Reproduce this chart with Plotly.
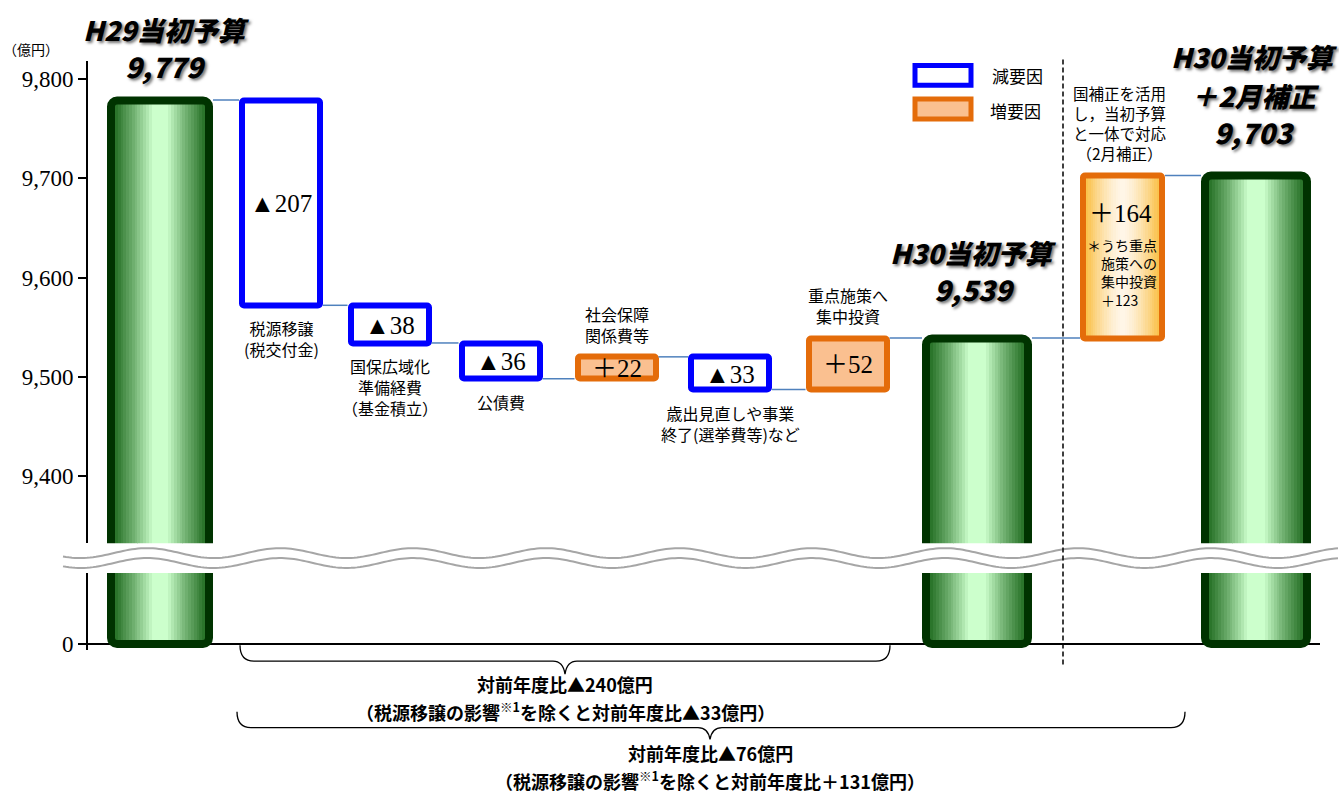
import math
import plotly.graph_objects as go

W, H = 1339, 798

# ---------------- data ----------------
BUDGET_H29 = 9779          # H29当初予算
BUDGET_H30 = 9539          # H30当初予算
BUDGET_H30_FEB = 9703      # H30当初予算＋2月補正
STEP_CHANGES = [-207, -38, -36, 22, -33, 52]
STEP_LABELS = [
    "税源移譲<br>(税交付金)",
    "国保広域化<br>準備経費<br>（基金積立）",
    "公債費",
    "社会保障<br>関係費等",
    "歳出見直しや事業<br>終了(選挙費等)など",
    "重点施策へ<br>集中投資",
]
FEB_SUPPLEMENT = 164       # 2月補正
FEB_FOCUS_PART = 123       # うち重点施策への集中投資
TAX_TRANSFER = -207        # 税源移譲の影響
Y_TICKS = [9400, 9500, 9600, 9700, 9800]
Y_TICK_TEXT = ["9,400", "9,500", "9,600", "9,700", "9,800"]

# ---------------- layout constants (x axis is in pixel units) ----------------
TOTAL_X = [160, 977, 1256]
TOTAL_W = [98, 102, 102]
STEP_X = [281, 389.5, 500.5, 616.5, 730, 847.5]
STEP_W = 78
SUPP_X = 1122.5
SUPP_W = 79
TOTAL_LW = 8
STEP_LW = 6

DARK_GREEN = "#003300"
BLUE = "#0000FF"
ORANGE_LINE = "#E46C0A"
ORANGE_FILL = "#FAC090"
CONNECT = "#4F81BD"
SERIF = "Liberation Serif, Noto Sans CJK JP"
GOTHIC = "Noto Sans CJK JP"


def px(x):
    return x / W


def py(y):
    return 1 - y / H


def signed(v):
    return f"▲{abs(v):,}" if v < 0 else f"＋{v:,}"


def mix(c1, c2, t):
    return "rgb({},{},{})".format(*[round(a + (b - a) * t) for a, b in zip(c1, c2)])


def green_shade(t):
    # light band in the middle, darker towards both edges
    d = abs(t - 0.5) / 0.5
    k = max(0.0, min(1.0, (d - 0.18) / 0.82))
    return mix((204, 255, 204), (38, 112, 38), k ** 0.85)


def orange_shade(t):
    d = abs(t - 0.5) / 0.5
    return mix((255, 246, 232), (250, 192, 70), d ** 1.5)


# running levels of the waterfall
levels = [BUDGET_H29]
for c in STEP_CHANGES:
    levels.append(levels[-1] + c)

fig = go.Figure()

# ---------------- connector lines ----------------
edges = []  # (left_outer, right_outer) of every column in order
edges.append((TOTAL_X[0] - TOTAL_W[0] / 2 - TOTAL_LW / 2, TOTAL_X[0] + TOTAL_W[0] / 2 + TOTAL_LW / 2))
for xc in STEP_X:
    edges.append((xc - STEP_W / 2 - STEP_LW / 2, xc + STEP_W / 2 + STEP_LW / 2))
edges.append((TOTAL_X[1] - TOTAL_W[1] / 2 - TOTAL_LW / 2, TOTAL_X[1] + TOTAL_W[1] / 2 + TOTAL_LW / 2))
edges.append((SUPP_X - SUPP_W / 2 - STEP_LW / 2, SUPP_X + SUPP_W / 2 + STEP_LW / 2))
edges.append((TOTAL_X[2] - TOTAL_W[2] / 2 - TOTAL_LW / 2, TOTAL_X[2] + TOTAL_W[2] / 2 + TOTAL_LW / 2))
conn_levels = levels[:] + [BUDGET_H30, BUDGET_H30_FEB]
cx, cy = [], []
for i, lv in enumerate(conn_levels):
    cx += [edges[i][1], edges[i + 1][0], None]
    cy += [lv, lv, None]
fig.add_trace(go.Scatter(x=cx, y=cy, mode="lines", line=dict(color=CONNECT, width=1.5),
                         hoverinfo="skip", showlegend=False, xaxis="x", yaxis="y"))

# ---------------- total columns (gradient strips + outline) ----------------
totals = [BUDGET_H29, BUDGET_H30, BUDGET_H30_FEB]
N = 32
sx, sy, sw, sc = [], [], [], []
for xc, w, v in zip(TOTAL_X, TOTAL_W, totals):
    inner = w - TOTAL_LW
    left = xc - inner / 2
    step = inner / N
    for k in range(N):
        sx.append(left + step * (k + 0.5))
        sy.append(v)
        sw.append(step * 1.02)
        sc.append(green_shade((k + 0.5) / N))
for ya in ["y", "y2"]:
    fig.add_trace(go.Bar(x=sx, y=sy, base=0, width=sw, marker=dict(color=sc, line=dict(width=0)),
                         hoverinfo="skip", showlegend=False, yaxis=ya))
    fig.add_trace(go.Bar(x=TOTAL_X, y=totals, base=0, width=TOTAL_W,
                         marker=dict(color="rgba(0,0,0,0)", cornerradius=6,
                                     line=dict(color=DARK_GREEN, width=TOTAL_LW)),
                         hoverinfo="skip", showlegend=False, yaxis=ya))

# ---------------- step boxes ----------------
bases = [min(levels[i], levels[i + 1]) for i in range(len(STEP_CHANGES))]
heights = [abs(c) for c in STEP_CHANGES]
fills = ["white" if c < 0 else ORANGE_FILL for c in STEP_CHANGES]
lines = [BLUE if c < 0 else ORANGE_LINE for c in STEP_CHANGES]
fig.add_trace(go.Bar(x=STEP_X, y=heights, base=bases, width=STEP_W,
                     marker=dict(color=fills, cornerradius=2, line=dict(color=lines, width=STEP_LW)),
                     hoverinfo="skip", showlegend=False, yaxis="y"))

# ---------------- supplementary budget box ----------------
inner = SUPP_W - STEP_LW
step = inner / N
fig.add_trace(go.Bar(x=[SUPP_X - inner / 2 + step * (k + 0.5) for k in range(N)],
                     y=[FEB_SUPPLEMENT] * N, base=BUDGET_H30, width=step * 1.02,
                     marker=dict(color=[orange_shade((k + 0.5) / N) for k in range(N)], line=dict(width=0)),
                     hoverinfo="skip", showlegend=False, yaxis="y"))
fig.add_trace(go.Bar(x=[SUPP_X], y=[FEB_SUPPLEMENT], base=BUDGET_H30, width=SUPP_W,
                     marker=dict(color="rgba(0,0,0,0)", cornerradius=2,
                                 line=dict(color=ORANGE_LINE, width=STEP_LW)),
                     hoverinfo="skip", showlegend=False, yaxis="y"))

annotations = []


def ann(text, x, y, size, family=SERIF, xref="paper", yref="paper", **kw):
    if xref == "paper":
        x = px(x)
    if yref == "paper":
        y = py(y)
    font = dict(family=family, size=size, color="black")
    font.update(kw.pop("font", {}))
    d = dict(text=text, x=x, y=y, xref=xref, yref=yref, showarrow=False, font=font,
             xanchor="center", yanchor="middle", borderpad=0)
    d.update(kw)
    annotations.append(d)


# values inside the step boxes
for xc, c, lo, hi in zip(STEP_X, STEP_CHANGES, levels[:-1], levels[1:]):
    ann(signed(c), xc, (lo + hi) / 2, 25, xref="x", yref="y", yshift=-1)

# step labels (below decreasing boxes, above increasing ones)
for i, (xc, c, lab) in enumerate(zip(STEP_X, STEP_CHANGES, STEP_LABELS)):
    lo = min(levels[i], levels[i + 1])
    hi = max(levels[i], levels[i + 1])
    if c < 0:
        ann(lab, xc, lo, 16, family=GOTHIC, xref="x", yref="y", yanchor="top", yshift=-10)
    else:
        ann(lab, xc, hi, 16, family=GOTHIC, xref="x", yref="y", yanchor="bottom", yshift=9)

# supplementary box texts
ann(signed(FEB_SUPPLEMENT), SUPP_X - 2, BUDGET_H30_FEB - 38, 25, xref="x", yref="y")
ann("＊うち重点<br>　施策への<br>　集中投資<br>　" + signed(FEB_FOCUS_PART), SUPP_X - 1, BUDGET_H30_FEB - 98,
    14, family=GOTHIC, xref="x", yref="y", align="left")
ann("国補正を活用<br>し，当初予算<br>と一体で対応<br>（2月補正）", 1120, 124, 15.5, family=GOTHIC)

# column titles
TITLE_FONT = dict(weight=900, style="italic", shadow="2px 2px 3px rgba(0,0,0,0.55)")
ann("H29当初予算", 166, 30, 27, family=GOTHIC, font=TITLE_FONT)
ann(f"{BUDGET_H29:,}", 166, 67, 28, family=GOTHIC, font=TITLE_FONT)
ann("H30当初予算", 973, 255, 27, family=GOTHIC, font=TITLE_FONT)
ann(f"{BUDGET_H30:,}", 975, 292, 28, family=GOTHIC, font=TITLE_FONT)
ann("H30当初予算", 1254, 57, 27, family=GOTHIC, font=TITLE_FONT)
ann("＋2月補正", 1255, 96, 27, family=GOTHIC, font=TITLE_FONT)
ann(f"{BUDGET_H30_FEB:,}", 1254, 133, 28, family=GOTHIC, font=TITLE_FONT)

# unit
ann("（億円）", 31, 49, 14, family=GOTHIC)

# legend
ann("減要因", 1017, 76, 17, family=GOTHIC)
ann("増要因", 1015, 111, 17, family=GOTHIC)

# year-on-year summary
diff_h30 = BUDGET_H30 - BUDGET_H29
diff_feb = BUDGET_H30_FEB - BUDGET_H29
BOLD = dict(weight="bold")
ann(f"対前年度比{signed(diff_h30)}億円", 565, 690, 18, family=GOTHIC, font=BOLD)
ann(f"（税源移譲の影響<sup>※1</sup>を除くと対前年度比{signed(diff_h30 - TAX_TRANSFER)}億円）",
    565, 717, 18, family=GOTHIC, font=BOLD)
ann(f"対前年度比{signed(diff_feb)}億円", 710, 760, 18, family=GOTHIC, font=BOLD)
ann(f"（税源移譲の影響<sup>※1</sup>を除くと対前年度比{signed(diff_feb - TAX_TRANSFER)}億円）",
    710, 787, 18, family=GOTHIC, font=BOLD)

# ---------------- shapes ----------------
shapes = []


def path(points):
    out = []
    for cmd, coords in points:
        pts = " ".join(f"{px(x):.5f},{py(y):.5f}" for x, y in coords)
        out.append(f"{cmd}{pts}")
    return " ".join(out)


def brace(x0, x1, xm, ytop, ymid, ytip):
    return path([
        ("M", [(x0, ytop)]),
        ("Q", [(x0, ymid), (x0 + 14, ymid)]),
        ("L", [(xm - 12, ymid)]),
        ("Q", [(xm - 2, ymid), (xm, ytip)]),
        ("Q", [(xm + 2, ymid), (xm + 12, ymid)]),
        ("L", [(x1 - 14, ymid)]),
        ("Q", [(x1, ymid), (x1, ytop)]),
    ])


shapes.append(dict(type="path", xref="paper", yref="paper", path=brace(240, 890, 565, 651, 667, 680),
                   line=dict(color="black", width=1.3)))
shapes.append(dict(type="path", xref="paper", yref="paper", path=brace(237, 1185, 710, 718, 734, 746),
                   line=dict(color="black", width=1.3)))

# axis break marks
for off in (0, 10):
    pts = [(x, 558 + off - 5 * math.cos(2 * math.pi * (x - 147) / 133)) for x in range(63, 1340, 3)]
    p = "M" + " L".join(f"{px(x):.5f},{py(y):.5f}" for x, y in pts)
    shapes.append(dict(type="path", xref="paper", yref="paper", path=p,
                       line=dict(color="#A6A6A6", width=2)))

# divider between initial budget and February supplement
shapes.append(dict(type="line", xref="paper", yref="paper", x0=px(1063), x1=px(1063), y0=py(60), y1=py(672),
                   line=dict(color="black", width=1.5, dash="5px,3px")))

# legend keys
shapes.append(dict(type="rect", xref="paper", yref="paper", x0=px(915), x1=px(971), y0=py(66), y1=py(86),
                   fillcolor="white", line=dict(color=BLUE, width=5)))
shapes.append(dict(type="rect", xref="paper", yref="paper", x0=px(915), x1=px(971), y0=py(100), y1=py(120),
                   fillcolor=ORANGE_FILL, line=dict(color=ORANGE_LINE, width=5)))

axis_common = dict(showline=True, linecolor="black", linewidth=2, ticks="outside", ticklen=8,
                   tickwidth=2, tickcolor="black", showgrid=False, anchor="x",
                   tickfont=dict(family="Liberation Serif", size=23, color="black"), fixedrange=True)

fig.update_layout(
    width=W, height=H, margin=dict(l=0, r=0, t=0, b=0),
    paper_bgcolor="white", plot_bgcolor="white",
    barmode="overlay", bargap=0, showlegend=False,
    xaxis=dict(domain=[px(88), px(1320)], range=[88, 1320], visible=False, anchor="y2", fixedrange=True),
    yaxis=dict(domain=[py(548), py(62)], range=[9332, 9818], tickvals=Y_TICKS, ticktext=Y_TICK_TEXT,
               zeroline=False, **axis_common),
    yaxis2=dict(domain=[py(656), py(578)], range=[-6, 72], tickvals=[0], ticktext=["0"],
                zeroline=True, zerolinecolor="black", zerolinewidth=2, **axis_common),
    annotations=annotations, shapes=shapes,
)

fig.write_html("out.html")
